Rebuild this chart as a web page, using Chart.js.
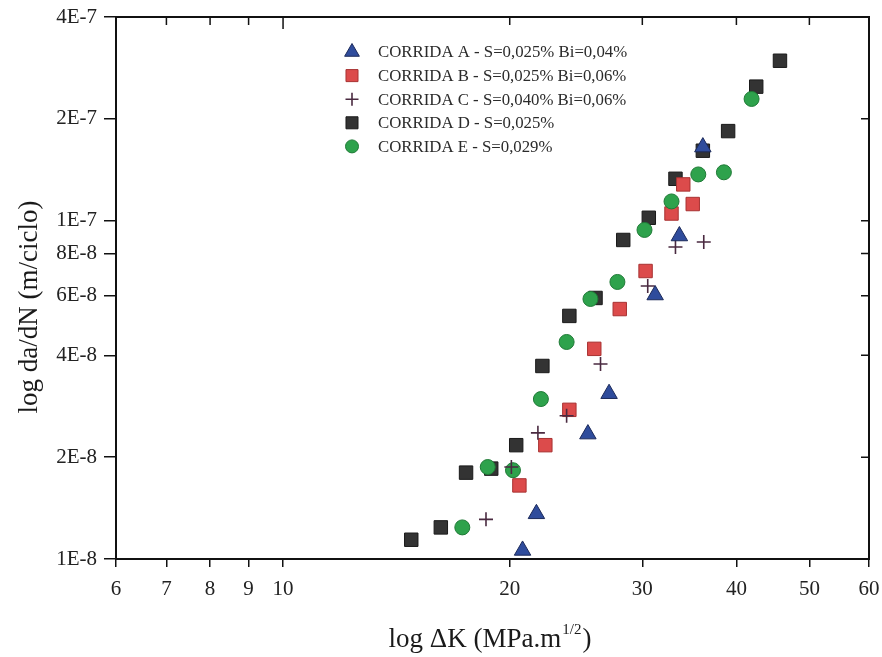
<!DOCTYPE html>
<html>
<head>
<meta charset="utf-8">
<script src="https://cdn.jsdelivr.net/npm/chart.js@4.4.1/dist/chart.umd.min.js"></script>
<style>
  html, body { margin: 0; padding: 0; background: #fff; }
  canvas { display: block; }
</style>
</head>
<body>
<canvas id="c" width="882" height="657"></canvas>
<script>
// Axis ticks
const xTicks = [6, 7, 8, 9, 10, 20, 30, 40, 50, 60];
const yTicks = [1e-8, 2e-8, 4e-8, 6e-8, 8e-8, 1e-7, 2e-7, 4e-7];
const yTickLabels = ['1E-8', '2E-8', '4E-8', '6E-8', '8E-8', '1E-7', '2E-7', '4E-7'];

// Series names
const seriesNames = [
  'CORRIDA A - S=0,025% Bi=0,04%',
  'CORRIDA B - S=0,025% Bi=0,06%',
  'CORRIDA C - S=0,040% Bi=0,06%',
  'CORRIDA D - S=0,025%',
  'CORRIDA E - S=0,029%'
];

// ΔK (MPa.m^1/2) and da/dN (m/ciclo) per run
const dkA   = [20.8, 21.7, 25.4, 27.1, 31.2, 33.6, 36.1];
const dadnA = [1.06e-8, 1.36e-8, 2.34e-8, 3.08e-8, 6.03e-8, 9.01e-8, 1.65e-7];

const dkB   = [20.6, 22.3, 24.0, 25.9, 28.0, 30.3, 32.8, 34.0, 35.0];
const dadnB = [1.65e-8, 2.17e-8, 2.76e-8, 4.18e-8, 5.48e-8, 7.10e-8, 1.05e-7, 1.28e-7, 1.12e-7];

const dkC   = [18.6, 20.1, 21.8, 23.8, 26.4, 30.5, 33.2, 36.2];
const dadnC = [1.31e-8, 1.87e-8, 2.36e-8, 2.65e-8, 3.77e-8, 6.41e-8, 8.36e-8, 8.65e-8];

const dkD   = [14.8, 16.2, 17.5, 18.9, 20.4, 22.1, 24.0, 26.0, 28.3, 30.6, 33.2, 36.1, 39.0, 42.5, 45.7];
const dadnD = [1.14e-8, 1.24e-8, 1.80e-8, 1.85e-8, 2.17e-8, 3.72e-8, 5.23e-8, 5.91e-8, 8.77e-8, 1.02e-7, 1.33e-7, 1.61e-7, 1.84e-7, 2.49e-7, 2.97e-7];

const dkE   = [17.3, 18.7, 20.2, 22.0, 23.8, 25.6, 27.8, 30.2, 32.8, 35.6, 38.5, 41.9];
const dadnE = [1.24e-8, 1.87e-8, 1.83e-8, 2.97e-8, 4.38e-8, 5.87e-8, 6.59e-8, 9.39e-8, 1.14e-7, 1.37e-7, 1.39e-7, 2.29e-7];

const pts = (xs, ys) => xs.map((x, i) => ({ x: x, y: ys[i] }));

const FONT = '"Liberation Serif", "Times New Roman", serif';

const datasets = [
  { label: seriesNames[0], data: pts(dkA, dadnA), pointStyle: 'triangle', pointRadius: 9.5,
    backgroundColor: '#2f4c9c', borderColor: '#1c2a5a', pointBorderWidth: 1, order: 0 },
  { label: seriesNames[1], data: pts(dkB, dadnB), pointStyle: 'rect', pointRadius: 9.5,
    backgroundColor: '#dc4b4b', borderColor: '#a83232', pointBorderWidth: 1, order: 3 },
  { label: seriesNames[2], data: pts(dkC, dadnC), pointStyle: 'cross', pointRadius: 7,
    backgroundColor: '#4a2a40', borderColor: '#4a2a40', pointBorderWidth: 1.6, order: 1 },
  { label: seriesNames[3], data: pts(dkD, dadnD), pointStyle: 'rect', pointRadius: 9.5,
    backgroundColor: '#333333', borderColor: '#1a1a1a', pointBorderWidth: 1, order: 4 },
  { label: seriesNames[4], data: pts(dkE, dadnE), pointStyle: 'circle', pointRadius: 7.5,
    backgroundColor: '#2ea24c', borderColor: '#1f7a36', pointBorderWidth: 1, order: 2 }
];
datasets.forEach(d => { d.showLine = false; d.pointHoverRadius = d.pointRadius; });

// Frame, inward mirror ticks, legend and axis titles
const decorations = {
  id: 'decorations',
  afterDraw(chart) {
    const ctx = chart.ctx;
    const a = chart.chartArea;
    const xs = chart.scales.x, ys = chart.scales.y;
    ctx.save();
    ctx.strokeStyle = '#111';
    ctx.lineWidth = 2;
    ctx.strokeRect(a.left, a.top, a.right - a.left, a.bottom - a.top);

    ctx.lineWidth = 1.5;
    ctx.beginPath();
    xTicks.forEach(v => {
      const px = xs.getPixelForValue(v);
      ctx.moveTo(px, a.top);
      ctx.lineTo(px, a.top + (v === 10 ? 12 : 8));
    });
    yTicks.forEach(v => {
      const py = ys.getPixelForValue(v);
      ctx.moveTo(a.right, py);
      ctx.lineTo(a.right - 8, py);
    });
    ctx.stroke();

    // legend
    const legendOrder = [0, 1, 2, 3, 4];
    legendOrder.forEach((di, row) => {
      const ds = chart.data.datasets[di];
      const y = 52 + row * 23.6;
      ctx.fillStyle = ds.backgroundColor;
      ctx.strokeStyle = ds.borderColor;
      ctx.lineWidth = ds.pointBorderWidth;
      Chart.helpers.drawPoint(ctx, {
        pointStyle: ds.pointStyle,
        radius: ds.pointStyle === 'cross' ? 6.5 : ds.pointRadius - 1,
        rotation: 0,
        borderWidth: ds.pointBorderWidth
      }, 352, y);
      ctx.fillStyle = '#2b2b2b';
      ctx.font = '16.8px ' + FONT;
      ctx.textAlign = 'left';
      ctx.textBaseline = 'middle';
      ctx.fillText(ds.label, 378, y + 1);
    });

    // y title
    ctx.fillStyle = '#1a1a1a';
    ctx.font = '27px ' + FONT;
    ctx.save();
    ctx.translate(30, 307);
    ctx.rotate(-Math.PI / 2);
    ctx.textAlign = 'center';
    ctx.textBaseline = 'middle';
    ctx.fillText('log da/dN (m/ciclo)', 0, 0);
    ctx.restore();

    // x title with superscript exponent
    const main = 'log \u0394K (MPa.m';
    const sup = '1/2';
    const close = ')';
    ctx.textAlign = 'left';
    ctx.textBaseline = 'alphabetic';
    ctx.font = '27px ' + FONT;
    const wMain = ctx.measureText(main).width;
    const wClose = ctx.measureText(close).width;
    ctx.font = '15px ' + FONT;
    const wSup = ctx.measureText(sup).width;
    let x0 = 490 - (wMain + wSup + wClose + 2) / 2;
    const base = 647;
    ctx.font = '27px ' + FONT;
    ctx.fillText(main, x0, base);
    ctx.font = '15px ' + FONT;
    ctx.fillText(sup, x0 + wMain + 1, base - 13);
    ctx.font = '27px ' + FONT;
    ctx.fillText(close, x0 + wMain + wSup + 2, base);
    ctx.restore();
  }
};

new Chart(document.getElementById('c'), {
  type: 'scatter',
  data: { datasets: datasets },
  options: {
    responsive: false,
    animation: false,
    layout: { padding: { top: 17, right: 13, left: 0, bottom: 0 } },
    plugins: { legend: { display: false }, tooltip: { enabled: false } },
    scales: {
      x: {
        type: 'logarithmic',
        min: 6, max: 60,
        afterBuildTicks: s => { s.ticks = xTicks.map(v => ({ value: v })); },
        afterFit: s => { s.height = 98; s.paddingLeft = 0; s.paddingRight = 0; },
        ticks: {
          autoSkip: false, maxRotation: 0, padding: 10,
          color: '#222', font: { family: FONT, size: 21 },
          callback: v => String(v)
        },
        grid: { drawOnChartArea: false, drawTicks: true, tickLength: 8, color: '#111', lineWidth: 1.5 },
        border: { display: true, color: '#111', width: 2 }
      },
      y: {
        type: 'logarithmic',
        min: 1e-8, max: 4e-7,
        afterBuildTicks: s => { s.ticks = yTicks.map(v => ({ value: v })); },
        afterFit: s => { s.width = 116; s.paddingTop = 0; s.paddingBottom = 0; },
        ticks: {
          autoSkip: false, padding: 7,
          color: '#222', font: { family: FONT, size: 21 },
          callback: function (v) {
            const i = yTicks.findIndex(t => Math.abs(t - v) / t < 1e-6);
            return i >= 0 ? yTickLabels[i] : '';
          }
        },
        grid: { drawOnChartArea: false, drawTicks: true, tickLength: 12, color: '#111', lineWidth: 1.5 },
        border: { display: true, color: '#111', width: 2 }
      }
    }
  },
  plugins: [decorations]
});
</script>
</body>
</html>
